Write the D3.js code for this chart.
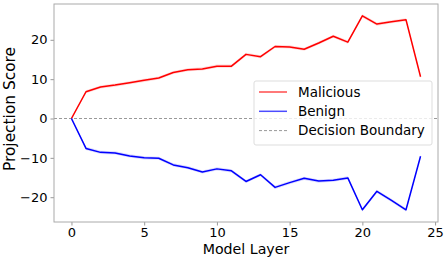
<!DOCTYPE html>
<html>
<head>
<meta charset="utf-8">
<script src="https://cdn.jsdelivr.net/npm/d3@7"></script>
<style>
  body { margin: 0; background: #fff; }
  svg { font-family: "DejaVu Sans", sans-serif; }
</style>
</head>
<body>
<div id="chart"></div>
<script>
// DATA
const layers = d3.range(0, 25);
const malicious = [0, 6.8, 8.0, 8.5, 9.1, 9.7, 10.3, 11.7, 12.4, 12.6, 13.3, 13.3, 16.3,
  15.7, 18.3, 18.2, 17.6, 19.2, 20.9, 19.4, 26.1, 24.0, 24.6, 25.1, 10.6];
const benign = [0, -7.6, -8.6, -8.75, -9.5, -10.0, -10.1, -11.8, -12.5, -13.6, -12.8, -13.3, -16.0,
  -14.3, -17.5, -16.3, -15.2, -15.9, -15.7, -15.1, -23.2, -18.5, -20.8, -23.2, -9.6];
const xTicks = [0, 5, 10, 15, 20, 25];
const yTicks = [-20, -10, 0, 10, 20];
const legendLabels = ["Malicious", "Benign", "Decision Boundary"];

const W = 448, H = 260;
const margin = { top: 4, right: 10, bottom: 38, left: 54 };

const svg = d3.select("#chart").append("svg")
  .attr("width", W).attr("height", H);

const x = d3.scaleLinear().domain([-1.2, 25.2]).range([margin.left, W - margin.right]);
const y = d3.scaleLinear().domain([-26.3, 29.1]).range([H - margin.bottom, margin.top]);

// zero line
svg.append("line")
  .attr("x1", x.range()[0]).attr("x2", x.range()[1])
  .attr("y1", y(0)).attr("y2", y(0))
  .attr("stroke", "#999").attr("stroke-width", 1)
  .attr("stroke-dasharray", "3,2");

// series
const series = [
  { name: "Malicious", values: malicious, color: "#ff0000" },
  { name: "Benign", values: benign, color: "#0000ff" }
];

const band = d3.area()
  .x((d, i) => x(layers[i]))
  .y0(d => y(d - 0.4))
  .y1(d => y(d + 0.4));

const line = d3.line()
  .x((d, i) => x(layers[i]))
  .y(d => y(d));

series.forEach(s => {
  svg.append("path").datum(s.values)
    .attr("d", band)
    .attr("fill", s.color).attr("opacity", 0.15);
  svg.append("path").datum(s.values)
    .attr("d", line)
    .attr("fill", "none")
    .attr("stroke", s.color)
    .attr("stroke-width", 1.5)
    .attr("stroke-linejoin", "round");
});

// axes
const xAxis = svg.append("g")
  .attr("transform", `translate(0,${H - margin.bottom})`)
  .call(d3.axisBottom(x).tickValues(xTicks).tickSize(3.5).tickSizeOuter(0).tickPadding(2.5));
const yAxis = svg.append("g")
  .attr("transform", `translate(${margin.left},0)`)
  .call(d3.axisLeft(y).tickValues(yTicks).tickSize(3.5).tickSizeOuter(0).tickPadding(3)
    .tickFormat(d => d < 0 ? "\u2212" + Math.abs(d) : d));

[xAxis, yAxis].forEach(a => {
  a.selectAll("text").attr("font-size", 13).attr("fill", "#000")
    .attr("font-family", "DejaVu Sans, sans-serif");
  a.selectAll(".tick line").attr("stroke", "#999");
  a.select(".domain").remove();
});

// frame
svg.append("rect")
  .attr("x", x.range()[0]).attr("y", y.range()[1])
  .attr("width", x.range()[1] - x.range()[0])
  .attr("height", y.range()[0] - y.range()[1])
  .attr("fill", "none").attr("stroke", "#aaa").attr("stroke-width", 1);

// axis labels
svg.append("text")
  .attr("x", (x.range()[0] + x.range()[1]) / 2).attr("y", 253.5)
  .attr("text-anchor", "middle").attr("font-size", 14.2)
  .text("Model Layer");
svg.append("text")
  .attr("transform", `translate(15,109) rotate(-90)`)
  .attr("text-anchor", "middle").attr("font-size", 15.4)
  .text("Projection Score");

// legend
const legend = svg.append("g").attr("transform", "translate(254,81)");
legend.append("rect")
  .attr("width", 178).attr("height", 64).attr("rx", 2)
  .attr("fill", "#fff").attr("fill-opacity", 0.8)
  .attr("stroke", "#ddd");
const legendStyles = [
  { color: "#ff0000", dash: null, opacity: 0.7 },
  { color: "#0000ff", dash: null, opacity: 0.7 },
  { color: "#999", dash: "3,2", opacity: 1 }
];
legendLabels.forEach((label, i) => {
  const ly = 11 + i * 19.3;
  legend.append("line")
    .attr("x1", 5).attr("x2", 33).attr("y1", ly).attr("y2", ly)
    .attr("stroke", legendStyles[i].color)
    .attr("stroke-width", i < 2 ? 1.5 : 1)
    .attr("stroke-opacity", legendStyles[i].opacity)
    .attr("stroke-dasharray", legendStyles[i].dash);
  legend.append("text")
    .attr("x", 44).attr("y", ly + 4.8)
    .attr("font-size", 13.5).text(label);
});
</script>
</body>
</html>
